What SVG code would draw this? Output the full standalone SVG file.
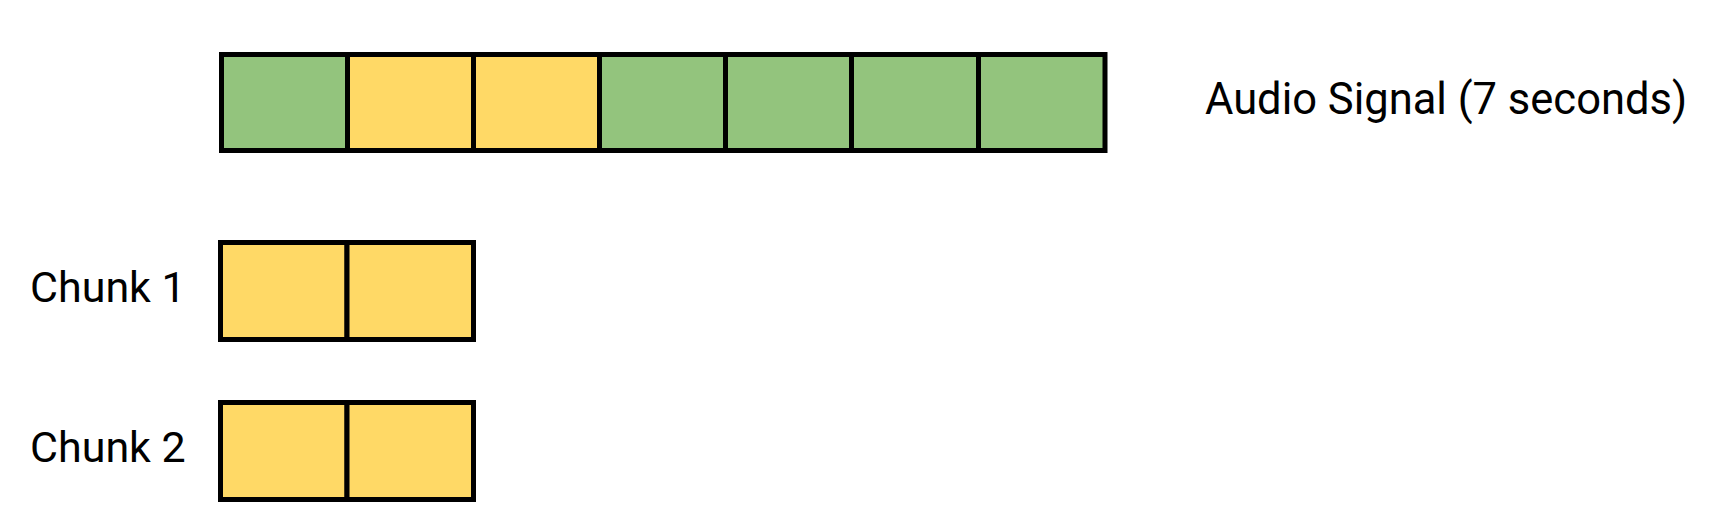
<svg xmlns="http://www.w3.org/2000/svg" width="1729" height="522" viewBox="0 0 1729 522">
<style>
.g{fill:#93c47d;stroke:#000;stroke-width:5}
.y{fill:#ffd966;stroke:#000;stroke-width:5}
text{font-family:Roboto,"Liberation Sans",sans-serif;fill:#000}
.a{font-size:43.5px}
.c{font-size:43px}
</style>
<rect width="1729" height="522" fill="#fff"/>
<g id="audio-signal">
<rect class="g" x="221.5" y="54.5" width="126" height="96"/>
<rect class="y" x="347.5" y="54.5" width="126" height="96"/>
<rect class="y" x="473.5" y="54.5" width="126" height="96"/>
<rect class="g" x="599.5" y="54.5" width="126" height="96"/>
<rect class="g" x="725.5" y="54.5" width="126" height="96"/>
<rect class="g" x="851.5" y="54.5" width="127" height="96"/>
<rect class="g" x="978.5" y="54.5" width="126.5" height="96"/>
<text class="a" x="1205" y="114">Audio Signal (7 seconds)</text>
</g>
<g id="chunk1">
<rect class="y" x="220.5" y="242.5" width="126.5" height="97"/>
<rect class="y" x="347" y="242.5" width="126.5" height="97"/>
<text class="c" x="30" y="302">Chunk 1</text>
</g>
<g id="chunk2">
<rect class="y" x="220.5" y="402.5" width="126.5" height="97"/>
<rect class="y" x="347" y="402.5" width="126.5" height="97"/>
<text class="c" x="30" y="462">Chunk 2</text>
</g>
<g id="connectors"/>
</svg>
